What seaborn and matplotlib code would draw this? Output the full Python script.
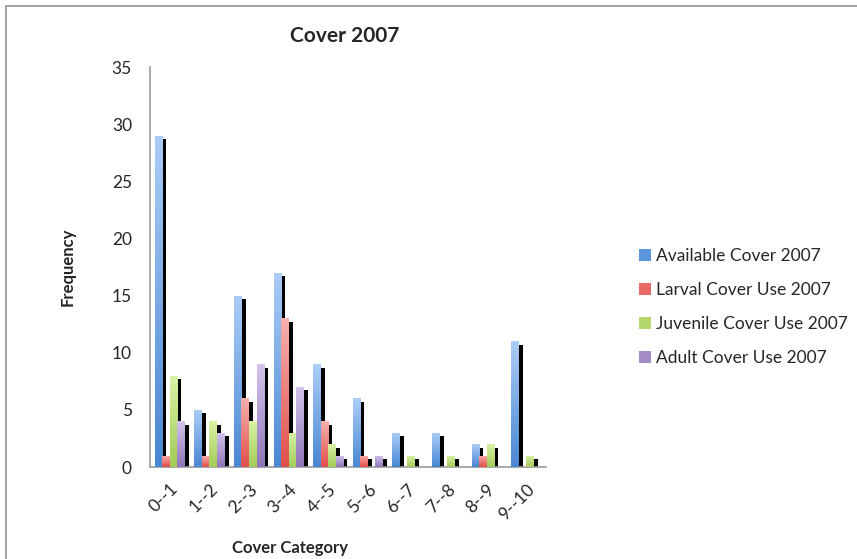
import numpy as np
import pandas as pd
import matplotlib
matplotlib.use("Agg")
import matplotlib.pyplot as plt
import matplotlib.patheffects as pe
from matplotlib.colors import LinearSegmentedColormap
from matplotlib.patches import Rectangle
import seaborn as sns

categories = ["0--1", "1--2", "2--3", "3--4", "4--5", "5--6", "6--7", "7--8", "8--9", "9--10"]
available = [29, 5, 15, 17, 9, 6, 3, 3, 2, 11]
larval = [1, 1, 6, 13, 4, 1, 0, 0, 1, 0]
juvenile = [8, 4, 4, 3, 2, 0, 1, 1, 2, 1]
adult = [4, 3, 9, 7, 1, 1, 0, 0, 0, 0]
series_names = ["Available Cover 2007", "Larval Cover Use 2007",
                "Juvenile Cover Use 2007", "Adult Cover Use 2007"]

# (top colour, bottom colour) of each series' vertical gradient
gradients = [("#abcdf7", "#4a87d2"),
             ("#f8b0ae", "#e0504c"),
             ("#d9f2a6", "#a3cc58"),
             ("#d3c4ea", "#8f76b8")]
solid = ["#5b95dc", "#e86a66", "#b4d86e", "#a28bc7"]

df = pd.DataFrame({
    "Cover Category": categories * 4,
    "Frequency": available + larval + juvenile + adult,
    "Series": np.repeat(series_names, len(categories)),
})

sns.set_style("white")
plt.rcParams["font.family"] = ["Lato", "DejaVu Sans"]

fig = plt.figure(figsize=(8.57, 5.59), dpi=100)
ax = fig.add_axes([150 / 857, 1 - 467 / 559, 396 / 857, 400 / 559])

sns.barplot(data=df, x="Cover Category", y="Frequency", hue="Series",
            hue_order=series_names, palette=solid, width=0.76,
            saturation=1, legend=False, ax=ax, linewidth=0)

shadow = [pe.SimplePatchShadow(offset=(3, -2.5), shadow_rgbFace="black", alpha=1.0),
          pe.Normal()]
bars = [p for p in ax.patches if isinstance(p, Rectangle)]
for i, bar in enumerate(bars):
    s = i // len(categories)
    if bar.get_height() <= 0:
        bar.set_visible(False)
        continue
    bar.set_path_effects(shadow)
    cmap = LinearSegmentedColormap.from_list("g", [gradients[s][1], gradients[s][0]])
    x0, y0 = bar.get_x(), bar.get_y()
    w, h = bar.get_width(), bar.get_height()
    img = ax.imshow(np.linspace(0, 1, 64).reshape(-1, 1), cmap=cmap,
                    extent=(x0, x0 + w, y0, y0 + h), origin="lower",
                    aspect="auto", zorder=5, interpolation="bilinear")
    img.set_clip_path(bar)
ax.set_xlim(-0.5, len(categories) - 0.5)
ax.set_ylim(0, 35)
ax.set_aspect("auto")

# axes styling
for side in ["top", "right"]:
    ax.spines[side].set_visible(False)
for side in ["left", "bottom"]:
    ax.spines[side].set_color("#9a9a9a")
    ax.spines[side].set_linewidth(1.2)
ax.set_yticks(np.arange(0, 36, 5))
ax.tick_params(axis="y", which="major", direction="out", length=5,
               width=1.2, color="#9a9a9a", labelsize=12.5, pad=8)
ax.set_xticks(np.arange(len(categories)))
ax.set_xticklabels(categories, rotation=45, ha="right", va="top",
                   rotation_mode="anchor", fontsize=12.5)
ax.tick_params(axis="x", which="major", length=0, pad=10)
ax.set_xticks(np.arange(len(categories) + 1) - 0.5, minor=True)
ax.tick_params(axis="x", which="minor", direction="out", length=5,
               width=1.2, color="#9a9a9a")
ax.set_xlabel("")
ax.set_ylabel("")

fig.text(345 / 857, 1 - 36 / 559, "Cover 2007", ha="center", va="center",
         fontsize=15, fontweight="bold")
fig.text(68 / 857, 1 - 267 / 559, "Frequency", ha="center", va="center",
         rotation=90, fontsize=12, fontweight="bold")
fig.text(290 / 857, 1 - 548 / 559, "Cover Category", ha="center", va="center",
         fontsize=12, fontweight="bold")

# legend
handles = [Rectangle((0, 0), 1, 1, facecolor=c, edgecolor="none") for c in solid]
fig.legend(handles, series_names, loc="center left",
           bbox_to_anchor=(623 / 857, 1 - 307 / 559), frameon=False,
           fontsize=12.5, handlelength=0.7, handleheight=0.7, handletextpad=0.3,
           labelspacing=1.05)

# chart frame (left and top edges)
fig.add_artist(plt.Line2D([5.5 / 857, 5.5 / 857], [0, 1 - 5.5 / 559],
                          transform=fig.transFigure, color="#9a9a9a", lw=1.3))
fig.add_artist(plt.Line2D([5.5 / 857, 1], [1 - 5.5 / 559, 1 - 5.5 / 559],
                          transform=fig.transFigure, color="#9a9a9a", lw=1.3))

fig.savefig("out.png", dpi=100)
